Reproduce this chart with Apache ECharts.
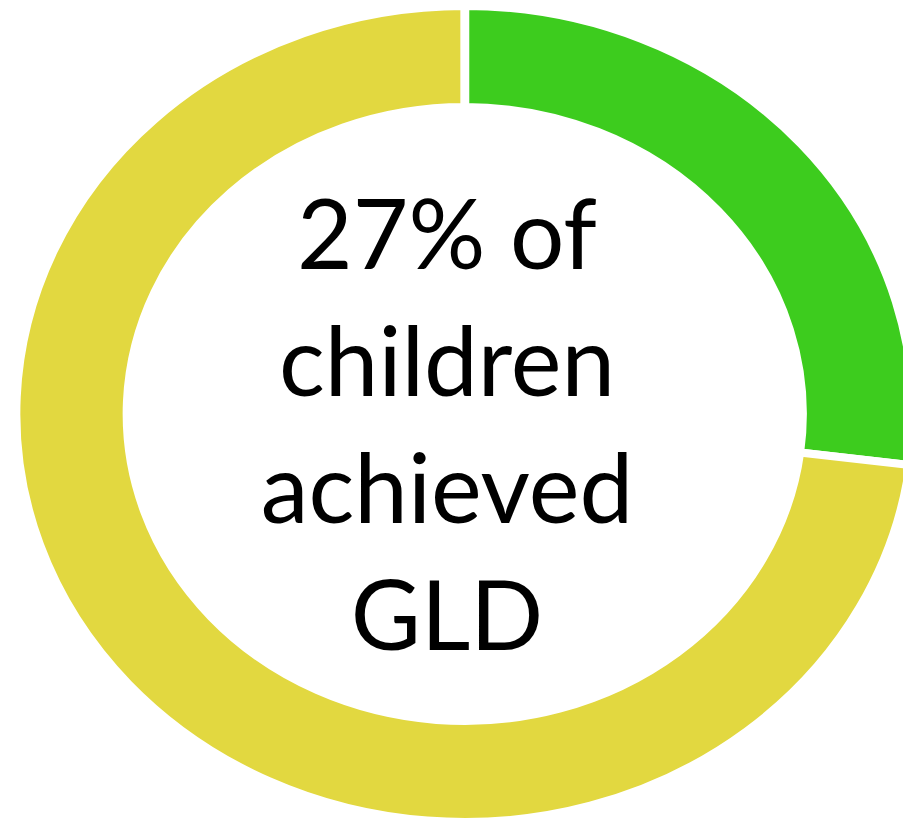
<!DOCTYPE html>
<html>
<head>
<meta charset="utf-8">
<script src="https://cdn.jsdelivr.net/npm/echarts@6/dist/echarts.min.js"></script>
<style>
  html, body { margin: 0; padding: 0; background: #ffffff; overflow: hidden; }
  #wrap { width: 903px; height: 821px; overflow: hidden; position: relative; }
  #chart { width: 821px; height: 821px; transform: scaleX(1.1); transform-origin: 0 0; position: absolute; left: 0; top: 0; }
</style>
</head>
<body>
<div id="wrap"><div id="chart"></div></div>
<script>
const categories = ['Achieved GLD', 'Did not achieve GLD'];
const values = [27, 73];
const colors = ['#3DCC1E', '#E2D840'];
const centerLines = ['27% of', 'children', 'achieved', 'GLD'];

const SX = 1.1;
const chart = echarts.init(document.getElementById('chart'), null, { renderer: 'svg' });
chart.setOption({
  animation: false,
  backgroundColor: '#ffffff',
  series: [{
    type: 'pie',
    center: [422.5, 414],
    radius: [307, 408],
    startAngle: 90,
    clockwise: true,
    label: { show: false },
    labelLine: { show: false },
    emphasis: { disabled: true },
    itemStyle: { borderColor: '#ffffff', borderWidth: 8 },
    data: categories.map((c, i) => ({ name: c, value: values[i], itemStyle: { color: colors[i] } }))
  }],
  graphic: [{
    type: 'text',
    x: 447 / SX,
    y: 422,
    scaleX: 1 / SX,
    style: {
      text: centerLines.join('\n'),
      fontFamily: 'Lato',
      fontSize: 96,
      lineHeight: 127,
      fill: '#000000',
      align: 'center',
      verticalAlign: 'middle'
    }
  }]
});
</script>
</body>
</html>
